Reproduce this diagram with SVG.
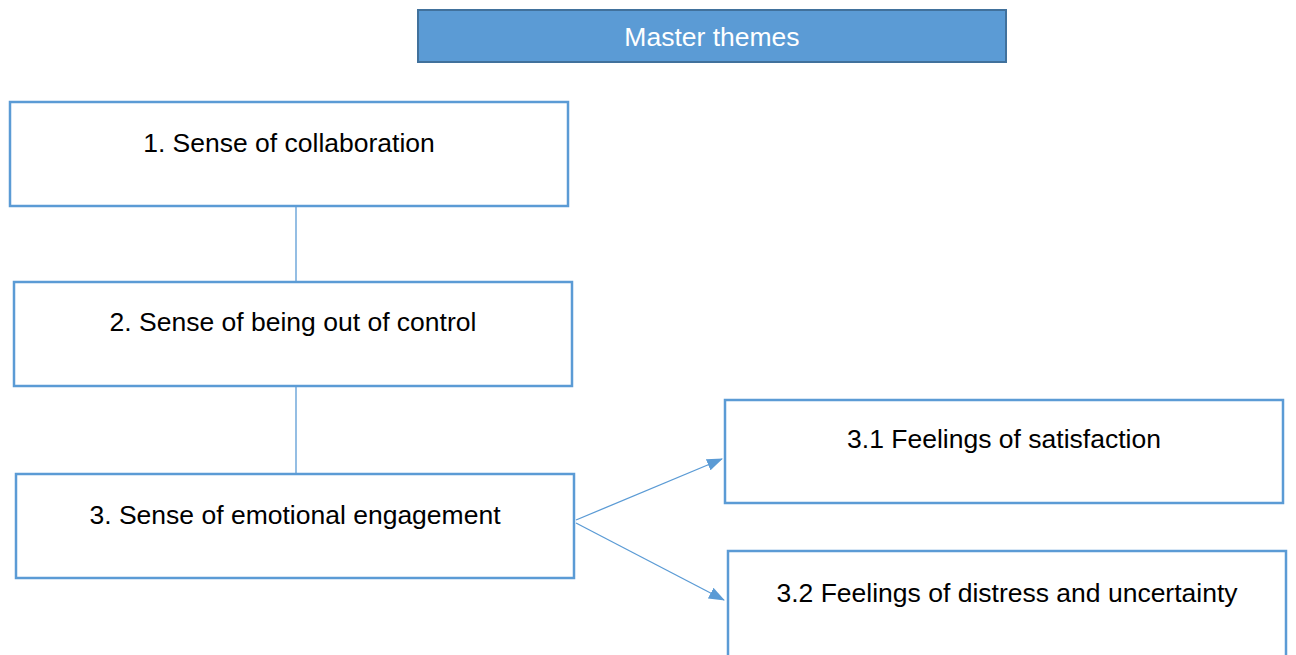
<svg xmlns="http://www.w3.org/2000/svg" width="1296" height="655" viewBox="0 0 1296 655">
<style>
.box{fill:#fff;stroke:#5B9BD5;stroke-width:2.5}
.t{font-family:"Liberation Sans",Arial,sans-serif;font-size:26.5px;fill:#000;text-anchor:middle}
.conn{stroke:#5B9BD5;stroke-width:1.3;fill:none}
</style>
<defs>
<marker id="ah" markerWidth="16" markerHeight="12" refX="15" refY="6" orient="auto" markerUnits="userSpaceOnUse">
<path d="M0,0 L16,6 L0,12 Z" fill="#5B9BD5"/>
</marker>
</defs>
<rect width="1296" height="655" fill="#fff"/>
<g id="connectors">
<line class="conn" x1="296" y1="207" x2="296" y2="282"/>
<line class="conn" x1="296" y1="387" x2="296" y2="474"/>
<line class="conn" x1="576" y1="520" x2="722" y2="459" marker-end="url(#ah)"/>
<line class="conn" x1="576" y1="523" x2="724" y2="600" marker-end="url(#ah)"/>
</g>
<g id="master">
<rect x="418" y="10" width="588" height="52" fill="#5B9BD5" stroke="#41719C" stroke-width="2"/>
<text class="t" x="712" y="46" fill="#fff" style="fill:#fff">Master themes</text>
</g>
<g id="n1">
<rect class="box" x="10" y="102" width="558" height="104"/>
<text class="t" x="289" y="152">1. Sense of collaboration</text>
</g>
<g id="n2">
<rect class="box" x="14" y="282" width="558" height="104"/>
<text class="t" x="293" y="331">2. Sense of being out of control</text>
</g>
<g id="n3">
<rect class="box" x="16" y="474" width="558" height="104"/>
<text class="t" x="295" y="524">3. Sense of emotional engagement</text>
</g>
<g id="n31">
<rect class="box" x="725" y="400" width="558" height="103"/>
<text class="t" x="1004" y="448">3.1 Feelings of satisfaction</text>
</g>
<g id="n32">
<rect class="box" x="728" y="551" width="558" height="110"/>
<text class="t" x="1007" y="602">3.2 Feelings of distress and uncertainty</text>
</g>
</svg>
